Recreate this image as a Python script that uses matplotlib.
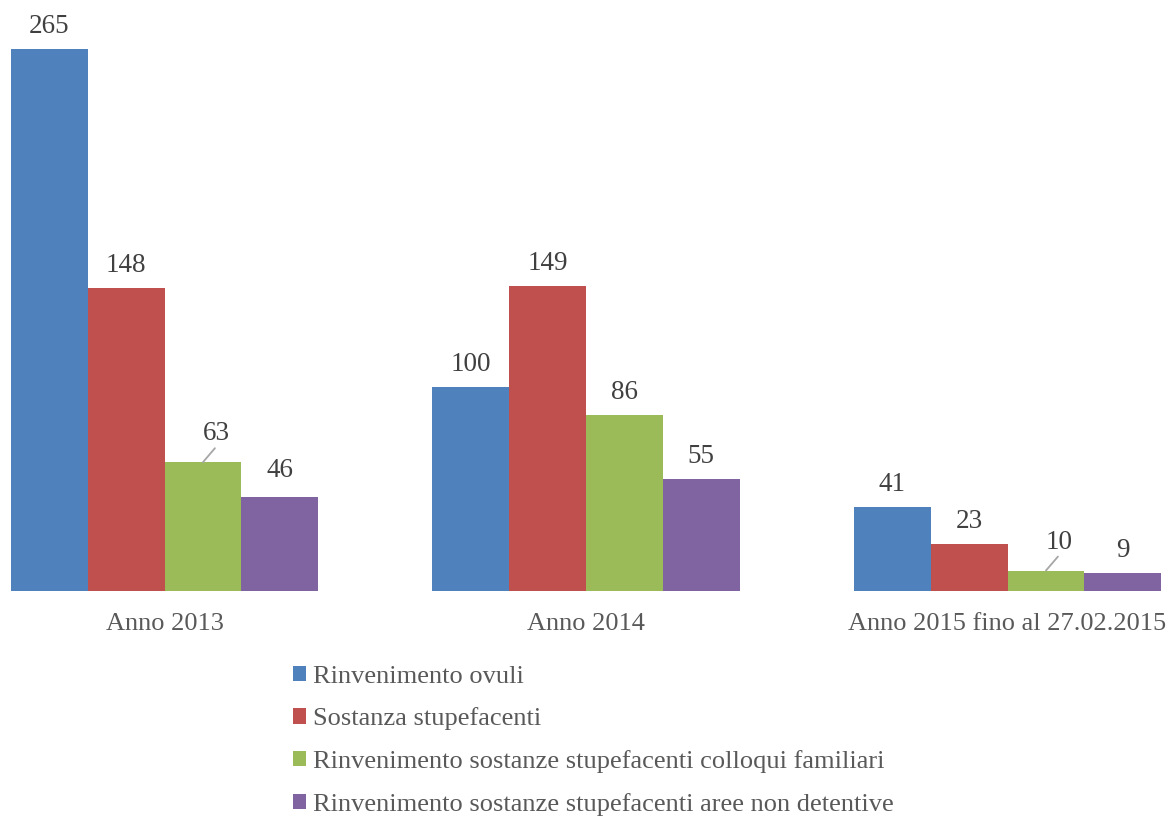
import matplotlib.pyplot as plt
import numpy as np

# Data
categories = ['Anno 2013', 'Anno 2014', 'Anno 2015 fino al 27.02.2015']
series_names = [
    'Rinvenimento ovuli',
    'Sostanza stupefacenti',
    'Rinvenimento sostanze stupefacenti colloqui familiari',
    'Rinvenimento sostanze stupefacenti aree non detentive',
]
ovuli = [265, 100, 41]
sostanza = [148, 149, 23]
colloqui = [63, 86, 10]
aree = [46, 55, 9]
colors = ['#4F81BD', '#C0504D', '#9BBB59', '#8064A2']

plt.rcParams['font.family'] = ['Liberation Serif', 'DejaVu Serif']

fig = plt.figure(figsize=(11.73, 8.21), dpi=100)
ax = fig.add_axes([0, 0.2801, 1, 0.7199])

x = np.arange(len(categories))
w = 0.1823
all_series = [ovuli, sostanza, colloqui, aree]

for i, (vals, name, col) in enumerate(zip(all_series, series_names, colors)):
    pos = x + (i - 1.5) * w
    ax.bar(pos, vals, width=w, color=col, label=name, linewidth=0)
    for j, (p, v) in enumerate(zip(pos, vals)):
        if i == 2 and j != 1:
            # small green labels moved aside with a leader line
            ax.annotate('', xy=(p, v), xytext=(12, 14), textcoords='offset pixels',
                        arrowprops=dict(arrowstyle='-', color='#A6A6A6', lw=1.3,
                                        shrinkA=0, shrinkB=0))
            ax.annotate(str(v), xy=(p, v), xytext=(13, 22), textcoords='offset pixels',
                        ha='center', va='baseline', fontsize=19.5, color='#404040')
        else:
            off = 20 if (i == 3 and j == 0) else 16
            ax.annotate(str(v), xy=(p, v), xytext=(0, off), textcoords='offset pixels',
                        ha='center', va='baseline', fontsize=19.5, color='#404040')

ax.set_xlim(-0.3903, 2.3926)
ax.set_ylim(0, 289)
ax.set_xticks(x)
ax.set_xticklabels(categories, fontsize=19, color='#595959')
ax.tick_params(axis='x', length=0, pad=16)
ax.set_yticks([])
for s in ax.spines.values():
    s.set_visible(False)

fig.legend(loc='upper left', bbox_to_anchor=(0.2498, 0.1894), frameon=False,
           fontsize=19, labelcolor='#595959', handlelength=0.51, handleheight=0.51,
           handletextpad=0.25, labelspacing=0.75, borderaxespad=0, borderpad=0)

fig.savefig('out.png', dpi=100)
